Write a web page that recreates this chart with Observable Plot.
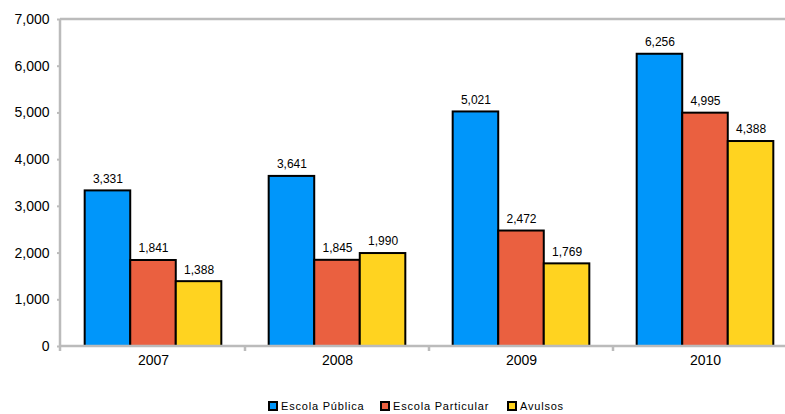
<!DOCTYPE html>
<html>
<head>
<meta charset="utf-8">
<script src="https://cdn.jsdelivr.net/npm/d3@7"></script>
<script src="https://cdn.jsdelivr.net/npm/@observablehq/plot@0.6"></script>
<style>
  body { margin: 0; background: #fff; font-family: "Liberation Sans", Arial, sans-serif; }
  #legend { position: relative; height: 16px; margin-top: 30px; font-size: 11px; letter-spacing: 0.8px; color: #000; }
  #legend span.item { position: absolute; top: 0; display: flex; align-items: center; white-space: nowrap; }
  #legend span.sw { display: inline-block; width: 6px; height: 6px; border: 2px solid #000; margin-right: 3px; }
</style>
</head>
<body>
<div id="chart"></div>
<div id="legend"></div>
<script>
const years = ["2007", "2008", "2009", "2010"];
const seriesNames = ["Escola Pública", "Escola Particular", "Avulsos"];
const colors = ["#0096FA", "#EA6040", "#FFD320"];
const publica = [3331, 3641, 5021, 6256];
const particular = [1841, 1845, 2472, 4995];
const avulsos = [1388, 1990, 1769, 4388];
const yTicks = [0, 1000, 2000, 3000, 4000, 5000, 6000, 7000];
const legendX = [268, 380, 507];

const values = [publica, particular, avulsos];
const data = [];
years.forEach((yr, i) => seriesNames.forEach((s, j) => data.push({year: yr, series: s, value: values[j][i]})));

const fmt = d3.format(",");
const plot = Plot.plot({
  width: 785,
  height: 370,
  marginLeft: 60,
  marginTop: 19,
  marginBottom: 24,
  marginRight: -13,
  style: {fontFamily: "'Liberation Sans', Arial, sans-serif", fontSize: "14px", overflow: "visible"},
  fx: {domain: years, padding: 0, label: null, axis: null},
  x: {domain: seriesNames, paddingInner: 0, paddingOuter: 0.52, round: false, axis: null},
  y: {domain: [0, 7000], ticks: yTicks, tickFormat: fmt, label: null},
  color: {domain: seriesNames, range: colors},
  marks: [
    Plot.barY(data, {fx: "year", x: "series", y: "value", fill: "series", stroke: "#000", strokeWidth: 2, inset: 0}),
    Plot.text(data, {fx: "year", x: "series", y: "value", text: d => fmt(d.value), dy: -12, fontSize: 12, fill: "#000"}),
    Plot.axisY({ticks: yTicks, tickFormat: fmt, tickSize: 4, stroke: "#bbb", strokeWidth: 2, fill: "#000", tickPadding: 8, fontSize: 14}),
    Plot.axisFx({anchor: "bottom", tickSize: 0, tickPadding: 9, fontSize: 14, label: null})
  ]
});
document.getElementById("chart").appendChild(plot);

// frame lines and category boundary ticks from the plot's own scales
const fx = plot.scale("fx"), y = plot.scale("y");
const svg = d3.select(plot);
const x0 = fx.range[0], x1 = fx.range[1];
const y0 = y.apply(0), yTop = y.apply(7000);
const g = svg.append("g").attr("stroke", "#bbb").attr("stroke-width", 2.5).attr("fill", "none");
g.append("line").attr("x1", x0).attr("x2", x1 + 20).attr("y1", y0).attr("y2", y0);
g.append("line").attr("x1", x0).attr("x2", x1 + 20).attr("y1", yTop).attr("y2", yTop);
g.append("line").attr("x1", x0).attr("x2", x0).attr("y1", yTop).attr("y2", y0 + 5);
years.forEach(yr => {
  const xb = fx.apply(yr) + fx.bandwidth;
  g.append("line").attr("x1", xb).attr("x2", xb).attr("y1", y0).attr("y2", y0 + 5);
});

const legend = document.getElementById("legend");
seriesNames.forEach((s, i) => {
  const item = document.createElement("span");
  item.className = "item";
  item.style.left = legendX[i] + "px";
  const sw = document.createElement("span");
  sw.className = "sw";
  sw.style.background = colors[i];
  item.appendChild(sw);
  item.appendChild(document.createTextNode(s));
  legend.appendChild(item);
});
</script>
</body>
</html>
